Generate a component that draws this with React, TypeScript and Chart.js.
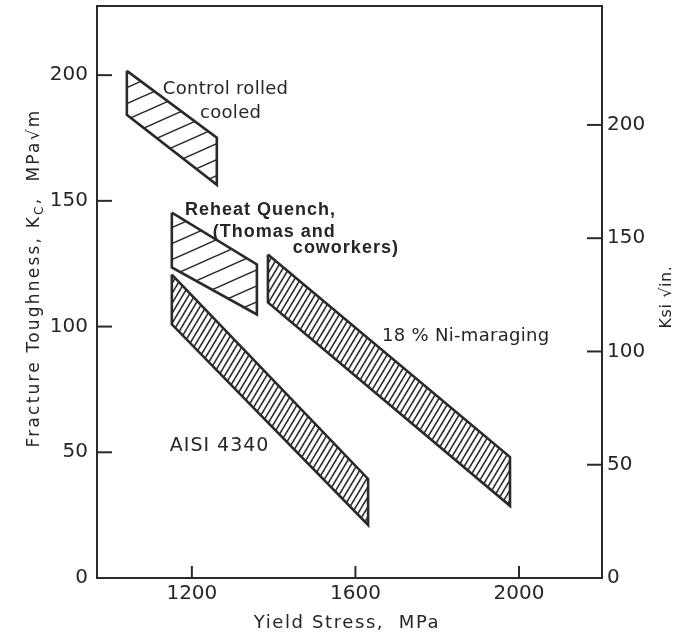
import React, { useEffect, useRef } from 'react';
import { Chart, registerables } from 'chart.js';

Chart.register(...registerables);

// ---- axes ----
const xRange = [968, 2203];
const leftRange = [0, 227.5];
const rightRange = [0, 252.5];
const xTicks = [1200, 1600, 2000];
const leftTicks = [0, 50, 100, 150, 200];
const rightTicks = [0, 50, 100, 150, 200];

// ---- bands (yield stress MPa, toughness MPa√m), closed polygons ----
const controlRolledX = [1041, 1041, 1261, 1261, 1041];
const controlRolledY = [201.7, 184.2, 156.4, 175.1, 201.7];
const reheatX = [1151, 1151, 1359, 1359, 1151];
const reheatY = [145.3, 123.5, 104.8, 124.7, 145.3];
const aisiX = [1151, 1151, 1631, 1631, 1151];
const aisiY = [120.7, 100.9, 21.1, 39.4, 120.7];
const niX = [1386, 1386, 1978, 1978, 1386];
const niY = [128.7, 109.6, 28.7, 48.1, 128.7];

// ---- annotations (anchored in data coordinates) ----
const labelTexts = ['Control rolled', 'cooled', 'Reheat Quench,', '(Thomas and', 'coworkers)', '18 % Ni-maraging', 'AISI 4340'];
const labelX = [1129, 1220, 1183, 1251, 1447, 1665, 1146];
const labelY = [194.5, 185, 146.5, 137.8, 131.4, 96.1, 52.5];

const INK = '#2a2a2a';
const TEXT = '#262626';
const FONT = '"DejaVu Sans", sans-serif';

function makeHatch(w: number, h: number, lw: number, color: string) {
  const c = document.createElement('canvas');
  c.width = w;
  c.height = h;
  const g = c.getContext('2d')!;
  g.strokeStyle = color;
  g.lineWidth = lw;
  for (const n of [0, 1, 2]) {
    g.beginPath();
    g.moveTo(-w, (n + 1) * h);
    g.lineTo(2 * w, (n - 2) * h);
    g.stroke();
  }
  return g.createPattern(c, 'repeat')!;
}

const zip = (xs: number[], ys: number[]) => xs.map((x, i) => ({ x, y: ys[i] }));

const decorPlugin = {
  id: 'decor',
  afterDraw(chart: any) {
    const { ctx, chartArea, scales } = chart;
    const { left, right, top, bottom } = chartArea;
    ctx.save();
    ctx.strokeStyle = INK;
    ctx.lineWidth = 2;
    ctx.strokeRect(left, top, right - left, bottom - top);
    const seg = (x1: number, y1: number, x2: number, y2: number) => {
      ctx.beginPath();
      ctx.moveTo(x1, y1);
      ctx.lineTo(x2, y2);
      ctx.stroke();
    };
    scales.y.ticks.forEach((t: any) => {
      const p = scales.y.getPixelForValue(t.value);
      if (t.value > 0) seg(left, p, left + 15, p);
    });
    scales.y2.ticks.forEach((t: any) => {
      const p = scales.y2.getPixelForValue(t.value);
      if (t.value > 0) seg(right - 15, p, right, p);
    });
    scales.x.ticks.forEach((t: any) => {
      const p = scales.x.getPixelForValue(t.value);
      seg(p, bottom, p, bottom - 12);
    });

    // annotations
    ctx.fillStyle = TEXT;
    ctx.textBaseline = 'middle';
    ctx.textAlign = 'left';
    labelTexts.forEach((txt, i) => {
      const px = scales.x.getPixelForValue(labelX[i]);
      const py = scales.y.getPixelForValue(labelY[i]);
      if (i >= 2 && i <= 4) {
        ctx.font = 'bold 18px "Liberation Sans", sans-serif';
        (ctx as any).letterSpacing = '1px';
      } else if (i === 6) {
        ctx.font = '19px ' + FONT;
        (ctx as any).letterSpacing = '1px';
      } else {
        ctx.font = '18px ' + FONT;
        (ctx as any).letterSpacing = '0.3px';
      }
      ctx.fillText(txt, px, py);
    });

    // x title
    ctx.font = '18px ' + FONT;
    (ctx as any).letterSpacing = '1.6px';
    ctx.textAlign = 'center';
    ctx.fillText('Yield Stress,  MPa', 347, 623);

    // left title (rotated)
    ctx.save();
    ctx.translate(35, 278);
    ctx.rotate(-Math.PI / 2);
    ctx.textAlign = 'left';
    const partA = 'Fracture Toughness, K';
    const partB = 'C';
    const partC = ',  MPa√m';
    ctx.font = '17px ' + FONT;
    (ctx as any).letterSpacing = '2.2px';
    const wA = ctx.measureText(partA).width;
    const wC = ctx.measureText(partC).width;
    ctx.font = '12px ' + FONT;
    const wB = ctx.measureText(partB).width;
    const total = wA + wB + wC;
    let x0 = -total / 2;
    ctx.font = '17px ' + FONT;
    ctx.fillText(partA, x0, 0);
    x0 += wA;
    ctx.font = '12px ' + FONT;
    ctx.fillText(partB, x0, 5);
    x0 += wB;
    ctx.font = '17px ' + FONT;
    ctx.fillText(partC, x0, 0);
    ctx.restore();

    // right title (rotated, reading upward)
    ctx.save();
    ctx.translate(667, 297);
    ctx.rotate(-Math.PI / 2);
    ctx.textAlign = 'center';
    ctx.font = '16px ' + FONT;
    (ctx as any).letterSpacing = '0.6px';
    ctx.fillText('Ksi √in.', 0, 0);
    ctx.restore();

    ctx.restore();
  },
};

export default function App() {
  const ref = useRef<HTMLCanvasElement | null>(null);
  useEffect(() => {
    if (!ref.current) return;
    const coarse = makeHatch(36, 16, 1.5, INK);
    const dense = makeHatch(6, 10, 1.6, INK);
    const band = (data: any[], pattern: CanvasPattern) => ({
      data,
      showLine: true,
      fill: 'shape',
      backgroundColor: pattern,
      borderColor: INK,
      borderWidth: 2.6,
      borderJoinStyle: 'miter',
      pointRadius: 0,
      tension: 0,
      xAxisID: 'x',
      yAxisID: 'y',
    });
    const tickFont = { family: FONT, size: 20 };
    const plain = (v: any) => String(v);
    const chart = new Chart(ref.current, {
      type: 'scatter',
      data: {
        datasets: [
          band(zip(controlRolledX, controlRolledY), coarse),
          band(zip(reheatX, reheatY), coarse),
          band(zip(aisiX, aisiY), dense),
          band(zip(niX, niY), dense),
        ] as any,
      },
      options: {
        animation: false,
        responsive: true,
        maintainAspectRatio: false,
        events: [],
        layout: { padding: { top: 6, left: 0, right: 0, bottom: 0 } },
        plugins: {
          legend: { display: false },
          tooltip: { enabled: false },
          title: { display: false },
        },
        scales: {
          x: {
            type: 'linear',
            position: 'bottom',
            min: xRange[0],
            max: xRange[1],
            grid: { display: false, drawTicks: false },
            border: { display: false },
            ticks: { font: tickFont, color: TEXT, padding: 4, maxRotation: 0, autoSkip: false, callback: plain },
            afterBuildTicks: (s: any) => { s.ticks = xTicks.map((v) => ({ value: v })); },
            afterFit: (s: any) => { s.height = 62; s.paddingLeft = 0; s.paddingRight = 0; },
          },
          y: {
            type: 'linear',
            position: 'left',
            min: leftRange[0],
            max: leftRange[1],
            grid: { display: false, drawTicks: false },
            border: { display: false },
            ticks: { font: tickFont, color: TEXT, padding: 9, callback: plain },
            afterBuildTicks: (s: any) => { s.ticks = leftTicks.map((v) => ({ value: v })); },
            afterFit: (s: any) => { s.width = 97; s.paddingTop = 0; s.paddingBottom = 0; },
          },
          y2: {
            type: 'linear',
            position: 'right',
            display: true,
            min: rightRange[0],
            max: rightRange[1],
            grid: { display: false, drawTicks: false },
            border: { display: false },
            ticks: { font: tickFont, color: TEXT, padding: 5, callback: plain },
            afterBuildTicks: (s: any) => { s.ticks = rightTicks.map((v) => ({ value: v })); },
            afterFit: (s: any) => { s.width = 95; s.paddingTop = 0; s.paddingBottom = 0; },
          },
        },
      } as any,
      plugins: [decorPlugin],
    });
    return () => chart.destroy();
  }, []);
  return (
    <div style={{ position: 'fixed', left: 0, top: 0, width: 697, height: 640, background: '#fff' }}>
      <canvas ref={ref} />
    </div>
  );
}
